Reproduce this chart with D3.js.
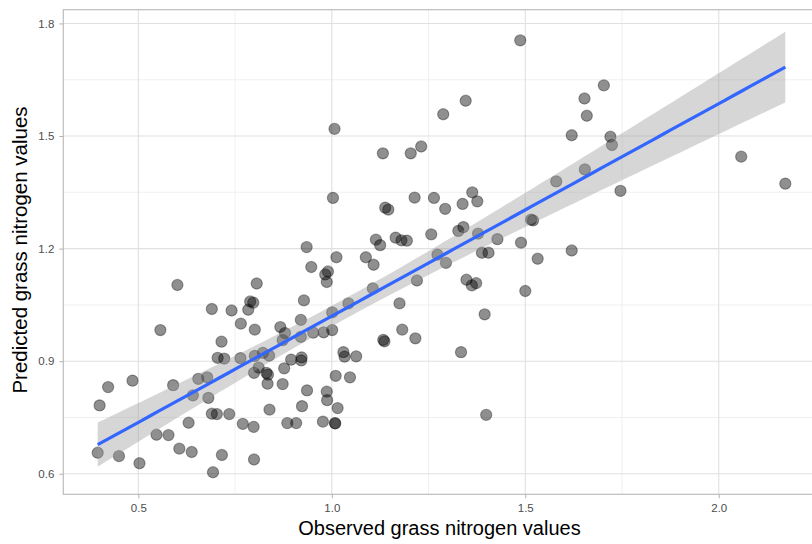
<!DOCTYPE html>
<html><head><meta charset="utf-8">
<script src="https://cdn.jsdelivr.net/npm/d3@7"></script>
<style>html,body{margin:0;padding:0;background:#fff;}svg{display:block;}</style>
</head><body>
<svg id="chart" width="812" height="544"></svg>
<script>
// Observed grass nitrogen values (x)
const observed = [
0.601,0.690,0.741,0.557,0.715,0.705,0.722,0.422,0.485,0.590,0.655,0.678,0.400,0.641,0.681,0.690,0.703,0.735,0.630,0.547,0.578,0.395,0.450,0.503,0.606,0.638,0.716,0.693,
0.770,0.798,0.799,0.834,0.873,0.839,0.885,0.908,0.923,0.806,0.789,0.797,0.784,0.765,0.801,0.764,0.801,0.822,0.838,0.811,0.799,0.831,0.835,
0.877,0.895,0.922,0.921,0.867,0.879,0.873,0.920,0.920,0.952,0.979,1.001,1.001,0.928,1.043,0.947,0.983,0.990,0.987,1.012,1.088,1.108,1.106,1.175,1.182,1.133,1.136,1.030,1.033,1.063,1.010,1.047,0.936,0.987,0.988,1.015,0.977,1.008,1.009,
1.007,1.132,1.003,1.138,1.146,1.114,1.125,1.165,1.180,1.194,0.935,
1.487,1.346,1.288,1.231,1.204,1.620,1.580,1.214,1.264,1.293,1.338,1.363,1.376,1.257,1.327,1.340,1.378,1.428,1.515,1.520,1.489,1.388,1.405,1.273,1.295,1.532,1.620,1.220,1.348,1.362,1.373,1.500,1.216,1.395,1.334,1.399,
1.703,1.653,1.659,1.720,1.724,1.654,1.746,2.058,2.172];
// Predicted grass nitrogen values (y)
const predicted = [
1.103,1.039,1.035,0.983,0.952,0.909,0.907,0.831,0.848,0.836,0.853,0.857,0.782,0.809,0.802,0.760,0.759,0.759,0.736,0.704,0.703,0.656,0.647,0.628,0.667,0.658,0.650,0.604,
0.733,0.725,0.638,0.840,0.839,0.771,0.735,0.735,0.780,1.107,1.059,1.056,1.037,1.000,0.984,0.908,0.914,0.922,0.915,0.883,0.869,0.869,0.864,
0.881,0.904,0.910,0.902,0.991,0.975,0.956,1.010,0.965,0.976,0.977,0.983,1.030,1.062,1.054,1.151,1.131,1.139,1.111,1.177,1.177,1.157,1.094,1.054,0.984,0.957,0.953,0.924,0.912,0.913,0.861,0.857,0.822,0.819,0.796,0.775,0.739,0.735,0.734,
1.519,1.454,1.335,1.309,1.304,1.224,1.209,1.229,1.222,1.221,1.204,
1.755,1.594,1.558,1.472,1.454,1.502,1.379,1.336,1.335,1.306,1.319,1.350,1.326,1.238,1.247,1.257,1.240,1.225,1.277,1.275,1.216,1.189,1.189,1.184,1.162,1.173,1.195,1.115,1.117,1.102,1.108,1.087,0.961,1.025,0.924,0.757,
1.635,1.600,1.554,1.498,1.476,1.411,1.354,1.445,1.373];

const xTicks = [0.5, 1.0, 1.5, 2.0];
const xMinor = [0.75, 1.25, 1.75, 2.25];
const yTicks = [0.6, 0.9, 1.2, 1.5, 1.8];
const yMinor = [0.75, 1.05, 1.35, 1.65];
const xTitle = "Observed grass nitrogen values";
const yTitle = "Predicted grass nitrogen values";

(function () {
const points = observed.map((v, i) => ({x: v, y: predicted[i]}));

// linear model (lm) with 95% confidence band
const n = points.length;
const mx = d3.mean(observed), my = d3.mean(predicted);
let sxx = 0, sxy = 0;
points.forEach(p => { sxx += (p.x - mx) ** 2; sxy += (p.x - mx) * (p.y - my); });
const slope = sxy / sxx, intercept = my - slope * mx;
let sse = 0;
points.forEach(p => { sse += (p.y - intercept - slope * p.x) ** 2; });
const s = Math.sqrt(sse / (n - 2));
const tCrit = 1.9766;
const [xMin, xMax] = d3.extent(observed);
const fit = d3.range(80).map(i => {
  const xv = xMin + (xMax - xMin) * i / 79;
  const yv = intercept + slope * xv;
  const se = s * Math.sqrt(1 / n + (xv - mx) ** 2 / sxx);
  return {x: xv, y: yv, lo: yv - tCrit * se, hi: yv + tCrit * se};
});

function expand(lo, hi) { const d = (hi - lo) * 0.05; return [lo - d, hi + d]; }
const xDom = expand(xMin, xMax);
const yDom = expand(Math.min(d3.min(predicted), d3.min(fit, d => d.lo)),
                     Math.max(d3.max(predicted), d3.max(fit, d => d.hi)));

const pL = 63.3, pR = 819.7, pT = 9.7, pB = 494.3;
const x = d3.scaleLinear().domain(xDom).range([pL, pR]);
const y = d3.scaleLinear().domain(yDom).range([pB, pT]);

const svg = d3.select("#chart");
const font = "'Liberation Sans', Arial, Helvetica, sans-serif";

svg.append("rect").attr("x", pL).attr("y", pT).attr("width", pR - pL).attr("height", pB - pT).attr("fill", "#fff");

const grid = svg.append("g");
grid.selectAll(".ymin").data(yMinor).join("line")
  .attr("x1", pL).attr("x2", pR).attr("y1", d => y(d)).attr("y2", d => y(d))
  .attr("stroke", "#ececec").attr("stroke-width", 0.8);
grid.selectAll(".xmin").data(xMinor).join("line")
  .attr("y1", pT).attr("y2", pB).attr("x1", d => x(d)).attr("x2", d => x(d))
  .attr("stroke", "#ececec").attr("stroke-width", 0.8);
grid.selectAll(".ymaj").data(yTicks).join("line")
  .attr("x1", pL).attr("x2", pR).attr("y1", d => y(d)).attr("y2", d => y(d))
  .attr("stroke", "#e0e0e0").attr("stroke-width", 1.1);
grid.selectAll(".xmaj").data(xTicks).join("line")
  .attr("y1", pT).attr("y2", pB).attr("x1", d => x(d)).attr("x2", d => x(d))
  .attr("stroke", "#e0e0e0").attr("stroke-width", 1.1);

// points
svg.append("g").selectAll("circle").data(points).join("circle")
  .attr("cx", d => x(d.x)).attr("cy", d => y(d.y)).attr("r", 5.6)
  .attr("fill", "#000").attr("fill-opacity", 0.44)
  .attr("stroke", "#000").attr("stroke-opacity", 0.35).attr("stroke-width", 1.1);

// confidence band
svg.append("path").datum(fit)
  .attr("d", d3.area().x(d => x(d.x)).y0(d => y(d.lo)).y1(d => y(d.hi)))
  .attr("fill", "#999999").attr("fill-opacity", 0.4);
// fitted line
svg.append("path").datum(fit)
  .attr("d", d3.line().x(d => x(d.x)).y(d => y(d.y)))
  .attr("fill", "none").attr("stroke", "#3366FF").attr("stroke-width", 3.2);

// panel border
svg.append("rect").attr("x", pL).attr("y", pT).attr("width", pR - pL).attr("height", pB - pT)
  .attr("fill", "none").attr("stroke", "#bdbdbd").attr("stroke-width", 1.2);

// axes
const xAxis = d3.axisBottom(x).tickValues(xTicks).tickFormat(d3.format(".1f")).tickSizeOuter(0).tickSize(4).tickPadding(6);
const yAxis = d3.axisLeft(y).tickValues(yTicks).tickFormat(d3.format(".1f")).tickSizeOuter(0).tickSize(4).tickPadding(5);
const gx = svg.append("g").attr("transform", `translate(0,${pB})`).call(xAxis);
const gy = svg.append("g").attr("transform", `translate(${pL},0)`).call(yAxis);
[gx, gy].forEach(g => {
  g.select(".domain").remove();
  g.selectAll(".tick line").attr("stroke", "#b3b3b3").attr("stroke-width", 1);
  g.selectAll(".tick text").attr("fill", "#4d4d4d").style("font-family", font).style("font-size", "11.5px");
});

svg.append("text").attr("x", (pL + pR) / 2 - 2).attr("y", 535)
  .attr("text-anchor", "middle").style("font-family", font).style("font-size", "20px").attr("fill", "#000")
  .text(xTitle);
svg.append("text").attr("transform", `translate(27,${(pT + pB) / 2 - 2}) rotate(-90)`)
  .attr("text-anchor", "middle").style("font-family", font).style("font-size", "20.5px").attr("fill", "#000")
  .text(yTitle);
})();
</script>
</body></html>
